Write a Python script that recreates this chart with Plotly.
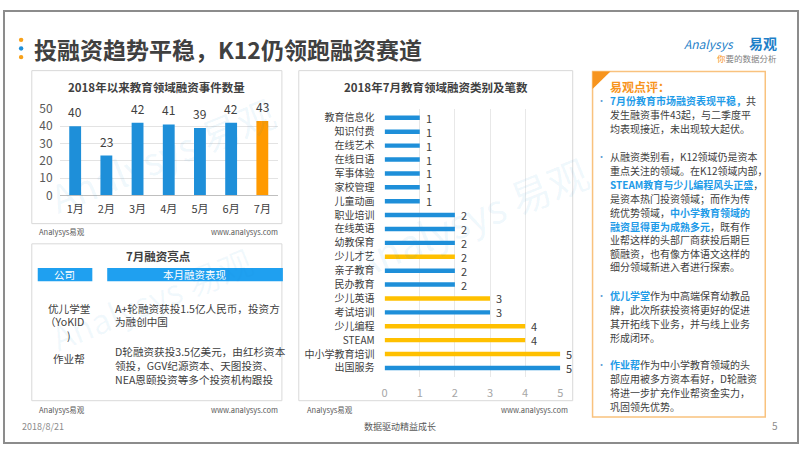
import plotly.graph_objects as go

W, H = 802, 451
def X(p): return p / W
def Y(p): return 1 - p / H

FONT = "Microsoft YaHei, 'Noto Sans CJK SC', sans-serif"
DARK = "#404040"
BLUE = "#1E8FD9"
TXT_BLUE = "#1E9BE8"
ORANGE = "#FF9A00"
YELLOW = "#FFC000"

# ---- data ----
months = ["1月", "2月", "3月", "4月", "5月", "6月", "7月"]
deal_counts = [40, 23, 42, 41, 39, 42, 43]
month_highlight = [0, 0, 0, 0, 0, 0, 1]

categories = ["教育信息化", "知识付费", "在线艺术", "在线日语", "军事体验", "家校管理",
              "儿童动画", "职业培训", "在线英语", "幼教保育", "少儿才艺", "亲子教育",
              "民办教育", "少儿英语", "考试培训", "少儿编程", "STEAM", "中小学教育培训", "出国服务"]
category_counts = [1, 1, 1, 1, 1, 1, 1, 2, 2, 2, 2, 2, 2, 3, 3, 4, 4, 5, 5]
category_highlight = [0, 0, 0, 0, 0, 0, 0, 0, 0, 0, 1, 0, 0, 1, 0, 1, 1, 1, 0]

y_ticks_left = [0, 10, 20, 30, 40, 50]
x_ticks_mid = [0, 1, 2, 3, 4, 5]

fig = go.Figure()
fig.add_trace(go.Bar(
    x=months, y=deal_counts, xaxis="x", yaxis="y",
    marker=dict(color=[ORANGE if h else BLUE for h in month_highlight], line=dict(width=0)),
    width=0.38, hoverinfo="skip"))
fig.add_trace(go.Bar(
    y=categories, x=category_counts, orientation="h", xaxis="x2", yaxis="y2",
    marker=dict(color=[YELLOW if h else BLUE for h in category_highlight], line=dict(width=0)),
    width=0.32, hoverinfo="skip"))

shapes = []
def rect(x0, y0, x1, y1, line=None, fill=None, lw=1):
    shapes.append(dict(type="rect", xref="paper", yref="paper",
                       x0=X(x0), x1=X(x1), y0=Y(y1), y1=Y(y0),
                       line=dict(color=line or "rgba(0,0,0,0)", width=lw if line else 0),
                       fillcolor=fill or "rgba(0,0,0,0)", layer="below"))

# slide border
rect(1, 1, 801, 450, line="#8C8C8C", lw=2)
# panels
rect(29, 63, 281, 222, line="#D9D9D9")
rect(29, 243, 281, 406, line="#D9D9D9")
rect(298, 63, 574, 406, line="#D9D9D9")
rect(594, 64, 768, 423, line="#F9C27E", lw=1.5)
# table header bars
rect(35, 268, 90, 282, fill="#1FA0F0")
rect(105, 268, 282, 282, fill="#1FA0F0")
# triangle corner
shapes.append(dict(type="path", xref="paper", yref="paper",
                   path=f"M {X(594)},{Y(64)} L {X(612)},{Y(64)} L {X(594)},{Y(82)} Z",
                   fillcolor="#F7941D", line=dict(width=0)))
# title dots
for yy, c in [(31, "#F7A11A"), (40, "#1E8FD9"), (49, "#F7A11A")]:
    shapes.append(dict(type="circle", xref="paper", yref="paper",
                       x0=X(16), x1=X(20.5), y0=Y(yy + 2.25), y1=Y(yy - 2.25),
                       fillcolor=c, line=dict(width=0)))

ann = []
def text(x, y, s, size=10, color=DARK, anchor="left", bold=False, **kw):
    if bold:
        s = f"<b>{s}</b>"
    ann.append(dict(xref="paper", yref="paper", x=X(x), y=Y(y), text=s,
                    showarrow=False, xanchor=anchor, yanchor="middle", borderpad=0,
                    font=dict(size=size, color=color, family=FONT), **kw))

def blue(s):
    return f"<b><span style='color:{TXT_BLUE}'>{s}</span></b>"

# value labels, placed through the axes
for m, v in zip(months, deal_counts):
    ann.append(dict(xref="x", yref="y", x=m, y=v, text=str(v), showarrow=False,
                    yanchor="bottom", yshift=5, borderpad=0,
                    font=dict(size=12, color=DARK, family=FONT)))
for c, v in zip(categories, category_counts):
    ann.append(dict(xref="x2", yref="y2", x=v, y=c, text=str(v), showarrow=False,
                    xanchor="left", xshift=5, borderpad=0,
                    font=dict(size=11, color=DARK, family=FONT)))

# watermarks
text(160, 150, "Analysys 易观", 38, "rgba(30,143,217,0.07)", "center", textangle=-22)
text(470, 215, "Analysys 易观", 40, "rgba(30,143,217,0.07)", "center", textangle=-22)
text(150, 300, "Analysys 易观", 34, "rgba(30,143,217,0.06)", "center", textangle=-22)

# headline
text(30, 41, "投融资趋势平稳，K12仍领跑融资赛道", 23, DARK, bold=True)
text(685, 35, "<i>Analysys</i>", 12, "#1E7FC8")
text(781, 34, "<b>易观</b>", 14, "#1E7FC8", "right")
text(781, 50, "<span style='color:#F7941D'>你</span>要的数据分析", 8.5, "#7F7F7F", "right")

# left top panel
text(155, 80, "2018年以来教育领域融资事件数量", 11.5, DARK, "center", bold=True)
text(35, 230, "Analysys易观", 7.5, "#595959")
text(278, 230, "www.analysys.com", 7.5, "#595959", "right")

# left bottom panel
text(157, 256, "7月融资亮点", 11.5, DARK, "center", bold=True)
text(62, 275, "公司", 10.5, "white", "center")
text(193, 275, "本月融资表现", 10.5, "white", "center")
for yy, s in [(310, "优儿学堂"), (324, "（YoKID"), (338, ")"), (362, "作业帮")]:
    text(66 if s != "（YoKID" else 62, yy, s, 10.6, DARK, "center")
for yy, s in [(310, "A+轮融资获投1.5亿人民币，投资方"), (324, "为融创中国"),
              (355, "D轮融资获投3.5亿美元，由红杉资本"), (369, "领投，GGV纪源资本、天图投资、"),
              (384, "NEA恩颐投资等多个投资机构跟投")]:
    text(112, yy, s, 10.6, DARK)
text(35, 415, "Analysys易观", 7.5, "#595959")
text(278, 415, "www.analysys.com", 7.5, "#595959", "right")

# middle panel
text(436, 80, "2018年7月教育领域融资类别及笔数", 11.5, DARK, "center", bold=True)
text(305, 415, "Analysys易观", 7.5, "#595959")
text(570, 415, "www.analysys.com", 7.5, "#595959", "right")

# right panel
text(611, 79, "易观点评：", 12, "#F7941D", bold=True)
lines = [
    (94, blue("7月份教育市场融资表现平稳，") + "共", True),
    (109, "发生融资事件43起，与二季度平", False),
    (123, "均表现接近，未出现较大起伏。", False),
    (152, "从融资类别看，K12领域仍是资本", True),
    (167, "重点关注的领域。在K12领域内部，", False),
    (181, blue("STEAM教育与少儿编程风头正盛") + "，", False),
    (196, "是资本热门投资领域；而作为传", False),
    (210, "统优势领域，" + blue("中小学教育领域的"), False),
    (225, blue("融资显得更为成熟多元") + "，既有作", False),
    (239, "业帮这样的头部厂商获投后期巨", False),
    (253, "额融资，也有像方体语文这样的", False),
    (267, "细分领域新进入者进行探索。", False),
    (297, blue("优儿学堂") + "作为中高端保育幼教品", True),
    (311, "牌，此次所获投资将更好的促进", False),
    (326, "其开拓线下业务，并与线上业务", False),
    (340, "形成闭环。", False),
    (368, blue("作业帮") + "作为中小学教育领域的头", True),
    (383, "部应用被多方资本看好，D轮融资", False),
    (397, "将进一步扩充作业帮资金实力，", False),
    (412, "巩固领先优势。", False),
]
for yy, s, bullet in lines:
    text(611, yy, s, 10, DARK)
    if bullet:
        text(603, yy, "•", 9, "#5B9BD5", "center")

# footer
text(18, 433, "2018/8/21", 9, "#8C8C8C")
text(400, 433, "数据驱动精益成长", 9, "#595959", "center")
text(778, 432, "5", 10, "#8C8C8C", "center")

tickfont_left = dict(size=12, color="#595959", family=FONT)
fig.update_layout(
    width=W, height=H, autosize=False, margin=dict(l=0, r=0, t=0, b=0),
    paper_bgcolor="white", plot_bgcolor="rgba(0,0,0,0)",
    showlegend=False, font=dict(family=FONT, color=DARK),
    xaxis=dict(domain=[X(57), X(277)], anchor="y", showgrid=False,
               showline=True, linecolor="#BFBFBF", linewidth=1, ticks="",
               tickfont=dict(size=11, color=DARK, family=FONT), ticklabelstandoff=3,
               fixedrange=True),
    yaxis=dict(domain=[Y(192.7), Y(102.7)], anchor="x", range=[0, 50],
               tickvals=y_ticks_left, showgrid=True, gridcolor="#E3E3E3",
               zeroline=False, showline=False, ticks="", tickfont=tickfont_left,
               ticklabelstandoff=6, fixedrange=True),
    xaxis2=dict(domain=[X(384.5), X(561.5)], anchor="y2", range=[0, 5],
                tickvals=x_ticks_mid, showgrid=True, gridcolor="#E8E8E8",
                zeroline=False, showline=False, ticks="",
                tickfont=dict(size=11, color="#A6A6A6", family=FONT),
                ticklabelstandoff=8, fixedrange=True),
    yaxis2=dict(domain=[Y(381.3), Y(102.7)], anchor="x2", autorange="reversed",
                showgrid=False, showline=False, ticks="",
                tickfont=dict(size=10, color=DARK, family=FONT),
                ticklabelstandoff=9, fixedrange=True),
    shapes=shapes, annotations=ann,
)

fig.write_html(
    "out.html", config={"displayModeBar": False, "responsive": False},
    post_script=("document.documentElement.style.margin='0';"
                 "document.body.style.margin='0';document.body.style.padding='0';"
                 "document.body.style.overflow='hidden';"
                 "document.documentElement.style.overflow='hidden';"))
